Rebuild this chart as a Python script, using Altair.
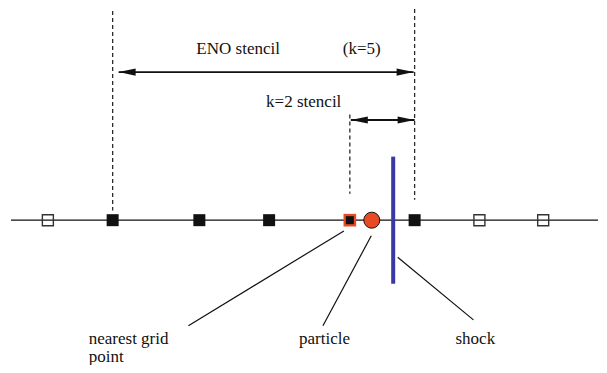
import altair as alt
import pandas as pd

# ---- diagram values (diagram units: x to the right, y downward) ----
grid_x = [48, 113, 200, 270, 416, 481, 545]
grid_in_stencil = [False, True, True, True, True, False, False]
nearest_x = 351
particle_x = 373
shock_x = 394.5
shock_y = [158, 288]
line_x = [11, 600]
line_y = 223

eno_span = [119, 415]
eno_y = 71.5
k2_span = [352, 416]
k2_y = 120.5

dash_x = [113, 416, 351]
dash_top = [9, 7, 115]
dash_bottom = [213, 202, 196]

labels = ["ENO stencil", "(k=5)", "k=2 stencil", "nearest grid", "point", "particle", "shock"]
label_x = [197, 344, 267, 89, 89, 300, 457]
label_y = [53, 53, 107, 350, 368, 350, 350]

leader_x = [345, 372.5, 399]
leader_y = [234, 239, 261]
leader_x2 = [189, 324, 475]
leader_y2 = [331, 331, 325]

RED = "#e84a25"
BLUE = "#3838a6"
INK = "#111111"

xs = alt.Scale(domain=[8, 599], nice=False, zero=False)
ys = alt.Scale(domain=[8, 365], nice=False, zero=False, reverse=True)


def X(f):
    return alt.X(f, type="quantitative", scale=xs, axis=None)


def Y(f):
    return alt.Y(f, type="quantitative", scale=ys, axis=None)


# base line
base_df = pd.DataFrame({"x": [line_x[0]], "x2": [line_x[1]], "y": [line_y]})
base = alt.Chart(base_df).mark_rule(color=INK, strokeWidth=1.3).encode(
    x=X("x"), x2="x2", y=Y("y"))

# dashed guides
dash_df = pd.DataFrame({"x": dash_x, "y": dash_top, "y2": dash_bottom})
dashes = alt.Chart(dash_df).mark_rule(color="#2a2a2a", strokeWidth=1.3, strokeDash=[4, 3]).encode(
    x=X("x"), y=Y("y"), y2="y2")

# arrow shafts
arrow_df = pd.DataFrame({"x": [eno_span[0], k2_span[0]], "x2": [eno_span[1], k2_span[1]],
                         "y": [eno_y, k2_y]})
shafts = alt.Chart(arrow_df).mark_rule(color=INK, strokeWidth=1.8).encode(
    x=X("x"), x2="x2", y=Y("y"))

RIGHT_HEAD = "M0,0 L-2,-0.42 L-2,0.42 Z"
LEFT_HEAD = "M0,0 L2,-0.42 L2,0.42 Z"
head_df = pd.DataFrame({
    "x": [eno_span[0], eno_span[1], k2_span[0], k2_span[1]],
    "y": [eno_y, eno_y, k2_y, k2_y],
    "shape": [LEFT_HEAD, RIGHT_HEAD, LEFT_HEAD, RIGHT_HEAD],
})
heads = alt.Chart(head_df).mark_point(filled=True, opacity=1, color=INK, size=289, strokeWidth=0).encode(
    x=X("x"), y=Y("y"), shape=alt.Shape("shape:N", scale=None))

# leader lines
lead_df = pd.DataFrame({"x": leader_x, "y": leader_y, "x2": leader_x2, "y2": leader_y2})
leaders = alt.Chart(lead_df).mark_rule(color=INK, strokeWidth=1.2).encode(
    x=X("x"), y=Y("y"), x2="x2", y2="y2")

# shock
shock_df = pd.DataFrame({"x": [shock_x], "y": [shock_y[0]], "y2": [shock_y[1]]})
shock = alt.Chart(shock_df).mark_rule(color=BLUE, strokeWidth=4).encode(
    x=X("x"), y=Y("y"), y2="y2")

# grid points
grid_df = pd.DataFrame({"x": grid_x, "y": [line_y] * len(grid_x), "inside": grid_in_stencil})
filled_pts = alt.Chart(grid_df).transform_filter("datum.inside").mark_point(
    shape="square", filled=True, opacity=1, color=INK, size=144).encode(x=X("x"), y=Y("y"))
open_pts = alt.Chart(grid_df).transform_filter("!datum.inside").mark_point(
    shape="square", filled=False, opacity=1, color="#333333", strokeWidth=1.4, size=121).encode(
    x=X("x"), y=Y("y"))

near_df = pd.DataFrame({"x": [nearest_x], "y": [line_y]})
near_outer = alt.Chart(near_df).mark_point(shape="square", filled=True, opacity=1, color=RED, size=160).encode(
    x=X("x"), y=Y("y"))
near_inner = alt.Chart(near_df).mark_point(shape="square", filled=True, opacity=1, color=INK, size=64).encode(
    x=X("x"), y=Y("y"))

part_df = pd.DataFrame({"x": [particle_x], "y": [line_y]})
particle = alt.Chart(part_df).mark_point(shape="circle", filled=True, opacity=1, fill=RED,
                                          stroke=INK, strokeWidth=1, size=256).encode(x=X("x"), y=Y("y"))

# labels
lab_df = pd.DataFrame({"t": labels, "x": label_x, "y": label_y})
texts = alt.Chart(lab_df).mark_text(align="left", baseline="alphabetic", font="Liberation Serif",
                                    fontSize=17, color=INK).encode(x=X("x"), y=Y("y"), text="t:N")

chart = alt.layer(base, dashes, shafts, heads, leaders, shock, open_pts, filled_pts,
                  near_outer, near_inner, particle, texts).properties(
    width=591, height=357, padding=0,
    autosize=alt.AutoSizeParams(type="fit", contains="padding"),
).configure(background="white").configure_view(stroke=None, strokeWidth=0)

chart.save("out.html", embed_options={"renderer": "svg", "actions": False})
